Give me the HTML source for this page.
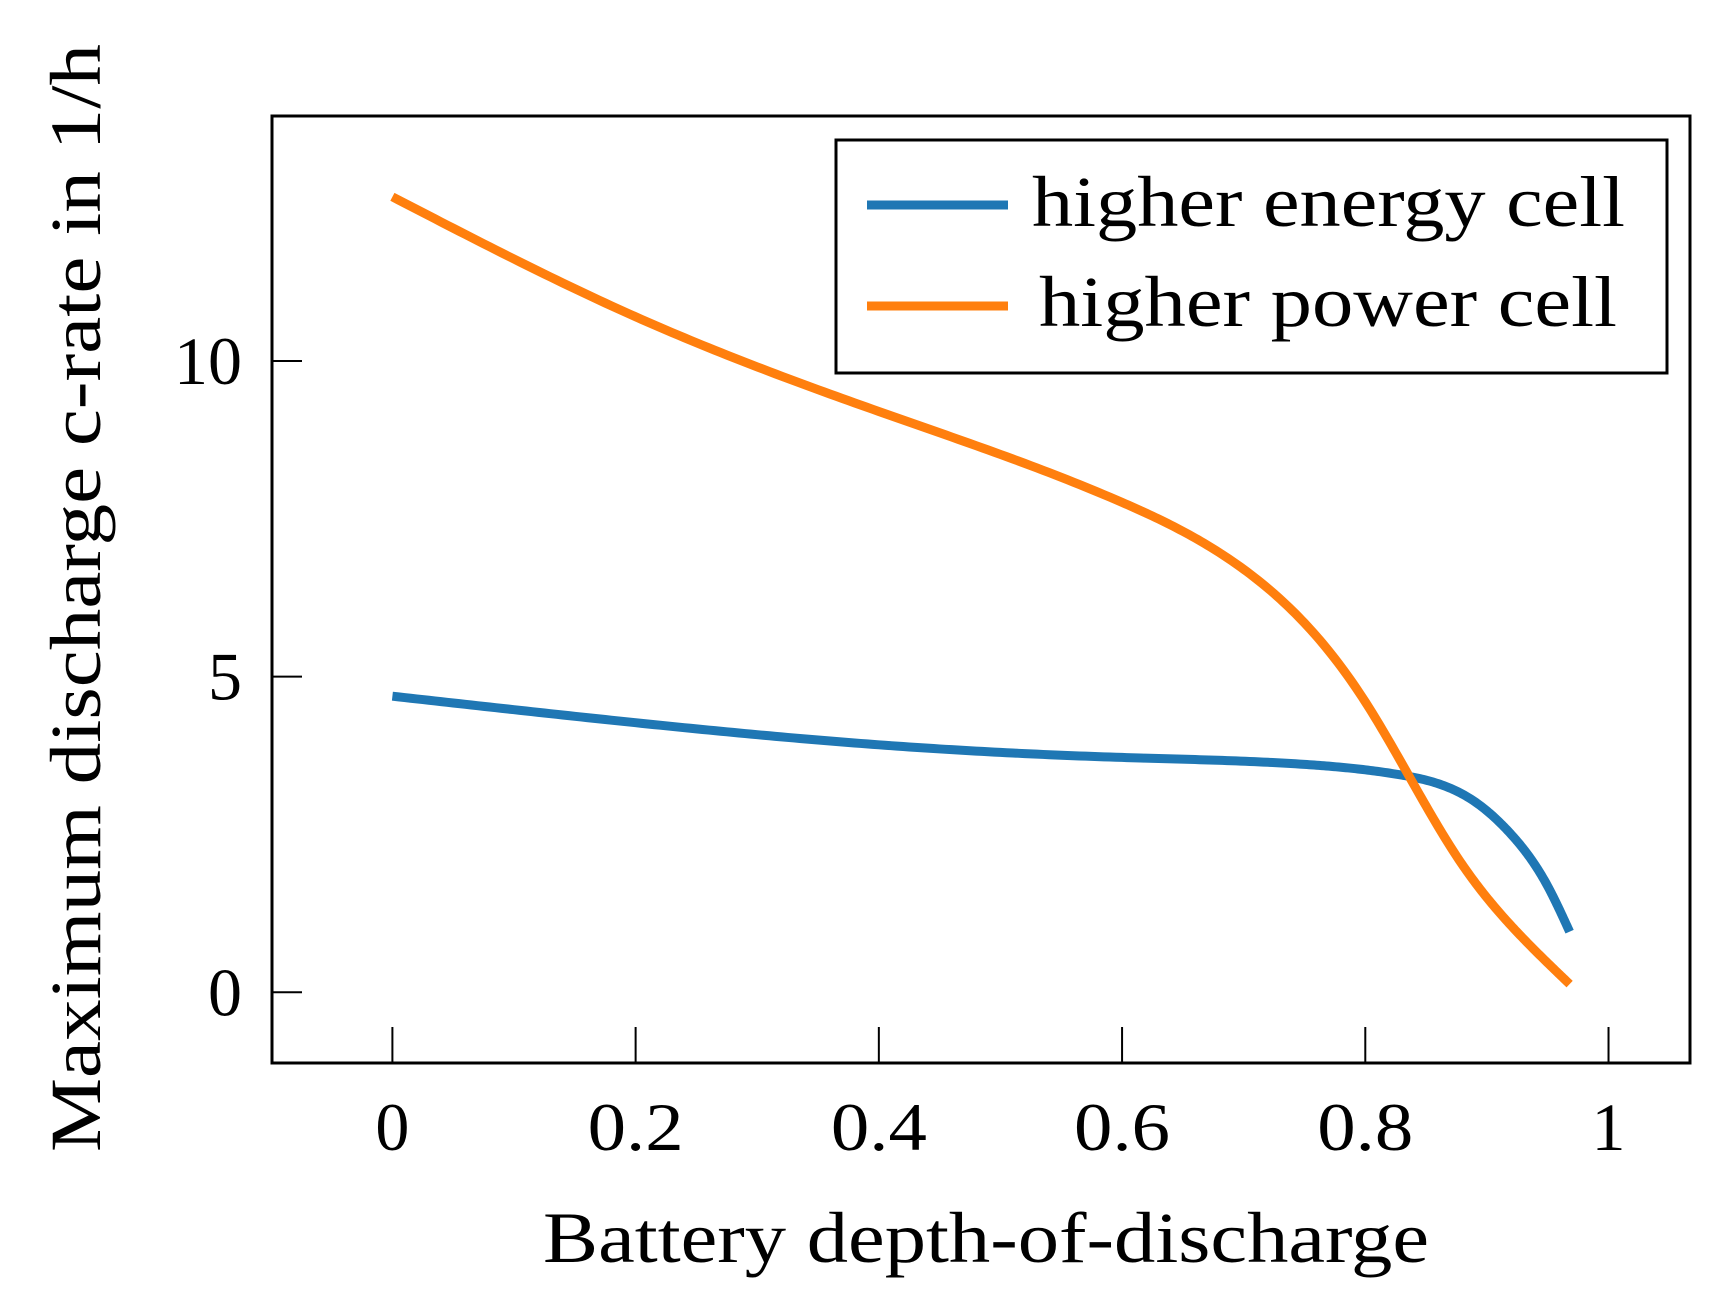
<!DOCTYPE html>
<html><head><meta charset="utf-8"><style>
html,body{margin:0;padding:0;background:#fff;}
svg{display:block;font-family:"Liberation Serif",serif;}
</style></head><body>
<svg id="chart" width="1728" height="1305" viewBox="0 0 1728 1305">
<g id="plot"></g>
</svg>
<script>
const xTicks=[0,0.2,0.4,0.6,0.8,1];
const xTickLabels=["0","0.2","0.4","0.6","0.8","1"];
const yTicks=[0,5,10];
const yTickLabels=["0","5","10"];
const energyX=[0,0.2,0.4,0.6,0.75,0.83,0.89,0.92,0.95,0.968];
const energyY=[4.69,4.27,3.92,3.72,3.61,3.44,3.02,2.5,1.68,0.96];
const powerX=[0,0.2,0.4,0.6,0.7,0.8,0.877,0.927,0.968];
const powerY=[12.6,10.7,9.2,7.76,6.7,4.6,2.1,0.91,0.13];
const svg=document.getElementById('chart');
const NS='http://www.w3.org/2000/svg';
const L=272,R=1690,T=116,B=1063;
const xMin=-0.099,xMax=1.067,yMin=-1.12,yMax=13.88;
function sx(v){return L+(v-xMin)/(xMax-xMin)*(R-L);}
function sy(v){return B-(v-yMin)/(yMax-yMin)*(B-T);}
function el(t,a,txt){const e=document.createElementNS(NS,t);for(const k in a)e.setAttribute(k,a[k]);if(txt!==undefined)e.textContent=txt;svg.appendChild(e);return e;}
xTicks.forEach((v,i)=>{
  const t=el('line',{x1:sx(v),x2:sx(v),y1:B,y2:B-36,stroke:'#000','stroke-width':2});
  
  
  const lbl=xTickLabels[i];
  const a={x:sx(v),y:1150,'text-anchor':'middle','font-size':68};
  if(lbl.length>1){a.textLength=96;a.lengthAdjust='spacingAndGlyphs';}
  const l=el('text',a,lbl);
  
  
});
yTicks.forEach((v,i)=>{
  const t=el('line',{x1:L,x2:L+30,y1:sy(v),y2:sy(v),stroke:'#000','stroke-width':2});
  
  
  const l=el('text',{x:242,y:sy(v)+23,'text-anchor':'end','font-size':68},yTickLabels[i]);
  
  
});
// natural cubic spline through data, sampled into a polyline
function pathFor(xs,ys){
  const n=xs.length,h=[],al=[],l=[1],mu=[0],z=[0],c=new Array(n).fill(0),b=[],d=[];
  for(let i=0;i<n-1;i++)h.push(xs[i+1]-xs[i]);
  for(let i=1;i<n-1;i++)al[i]=3/h[i]*(ys[i+1]-ys[i])-3/h[i-1]*(ys[i]-ys[i-1]);
  for(let i=1;i<n-1;i++){l[i]=2*(xs[i+1]-xs[i-1])-h[i-1]*mu[i-1];mu[i]=h[i]/l[i];z[i]=(al[i]-h[i-1]*z[i-1])/l[i];}
  for(let j=n-2;j>=0;j--){c[j]=(j>0?z[j]-mu[j]*c[j+1]:0);}
  c[0]=0;
  for(let j=0;j<n-1;j++){b[j]=(ys[j+1]-ys[j])/h[j]-h[j]*(c[j+1]+2*c[j])/3;d[j]=(c[j+1]-c[j])/(3*h[j]);}
  let s='';
  for(let j=0;j<n-1;j++){
    const steps=40;
    for(let k=(j===0?0:1);k<=steps;k++){
      const t=h[j]*k/steps,x=xs[j]+t,y=ys[j]+b[j]*t+c[j]*t*t+d[j]*t*t*t;
      s+=(s?' L':'M')+sx(x).toFixed(2)+','+sy(y).toFixed(2);
    }
  }
  return s;
}
const e=el('path',{d:pathFor(energyX,energyY),fill:'none',stroke:'#1f77b4','stroke-width':9,'stroke-linejoin':'round'});


const p=el('path',{d:pathFor(powerX,powerY),fill:'none',stroke:'#ff7f0e','stroke-width':9,'stroke-linejoin':'round'});


const box=el('rect',{x:L,y:T,width:R-L,height:B-T,fill:'none',stroke:'#000','stroke-width':3});


const lg=el('rect',{x:836,y:140,width:831,height:233,fill:'#fff',stroke:'#000','stroke-width':3});


const l1=el('line',{x1:867,x2:1008,y1:205,y2:205,stroke:'#1f77b4','stroke-width':9});


const t1=el('text',{x:1032,y:226,'font-size':72,textLength:593,lengthAdjust:'spacingAndGlyphs'},'higher energy cell');


const l2=el('line',{x1:867,x2:1008,y1:306,y2:306,stroke:'#ff7f0e','stroke-width':9});


const t2=el('text',{x:1039,y:326,'font-size':72,textLength:578,lengthAdjust:'spacingAndGlyphs'},'higher power cell');


const xt=el('text',{x:986,y:1262,'text-anchor':'middle','font-size':72,textLength:886,lengthAdjust:'spacingAndGlyphs'},'Battery depth-of-discharge');


const yt=el('text',{x:0,y:0,'text-anchor':'middle','font-size':72,textLength:1108,lengthAdjust:'spacingAndGlyphs',transform:'translate(100,598) rotate(-90)'},'Maximum discharge c-rate in 1/h');


</script>
</body></html>
